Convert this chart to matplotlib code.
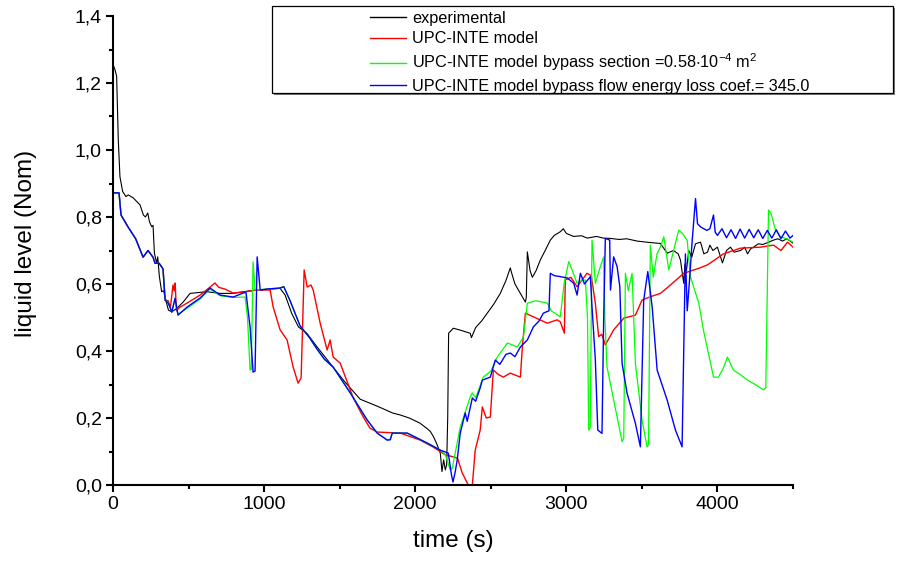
import matplotlib
matplotlib.use("Agg")
import matplotlib.pyplot as plt
from matplotlib.patches import Rectangle
from matplotlib.lines import Line2D

plt.rcParams['font.family'] = ['Liberation Sans', 'DejaVu Sans']
plt.rcParams['mathtext.fontset'] = 'custom'
plt.rcParams['mathtext.rm'] = 'Liberation Sans'
plt.rcParams['mathtext.it'] = 'Liberation Sans:italic'

# experimental
exp_t = [0, 5, 13, 24, 35, 46, 64, 86, 101, 134, 179, 201, 215, 230, 241, 256, 265, 274, 289, 296,
         307, 322, 335, 350, 367, 389, 422, 466, 510, 554, 620, 709, 797, 863, 952, 1018, 1106, 1139,
         1183, 1227, 1283, 1349, 1437, 1530, 1636, 1750, 1850, 1901, 1960, 2030, 2077, 2100, 2121,
         2145, 2166, 2177, 2188, 2199, 2208, 2215, 2221, 2252, 2300, 2364, 2372, 2400, 2440, 2477,
         2520, 2563, 2600, 2629, 2640, 2660, 2696, 2729, 2735, 2742, 2760, 2775, 2800, 2828, 2860,
         2894, 2920, 2960, 2980, 3000, 3047, 3100, 3139, 3200, 3245, 3292, 3350, 3400, 3470, 3550,
         3623, 3667, 3709, 3740, 3755, 3777, 3785, 3795, 3810, 3830, 3855, 3888, 3910, 3934, 3950,
         3970, 4000, 4033, 4060, 4086, 4110, 4153, 4180, 4199, 4220, 4239, 4270, 4300, 4340, 4371,
         4400, 4430, 4460, 4500]
exp_y = [1.24, 1.25, 1.24, 1.22, 1.03, 0.92, 0.876, 0.861, 0.866, 0.857, 0.836, 0.806, 0.80, 0.812,
         0.786, 0.771, 0.775, 0.692, 0.662, 0.681, 0.622, 0.577, 0.58, 0.55, 0.522, 0.517, 0.527,
         0.547, 0.572, 0.574, 0.577, 0.572, 0.572, 0.577, 0.582, 0.584, 0.587, 0.567, 0.512, 0.472,
         0.453, 0.413, 0.363, 0.31, 0.256, 0.235, 0.215, 0.209, 0.2, 0.185, 0.169, 0.16, 0.144, 0.12,
         0.095, 0.04, 0.075, 0.045, 0.06, 0.2, 0.453, 0.468, 0.462, 0.453, 0.44, 0.47, 0.49, 0.513,
         0.54, 0.572, 0.61, 0.648, 0.63, 0.60, 0.572, 0.546, 0.56, 0.696, 0.64, 0.62, 0.64, 0.672,
         0.70, 0.731, 0.745, 0.756, 0.765, 0.751, 0.742, 0.744, 0.737, 0.742, 0.737, 0.736, 0.733,
         0.735, 0.728, 0.724, 0.721, 0.692, 0.70, 0.69, 0.672, 0.602, 0.66, 0.64, 0.70, 0.68, 0.72,
         0.725, 0.69, 0.695, 0.716, 0.70, 0.71, 0.663, 0.70, 0.71, 0.695, 0.70, 0.71, 0.69, 0.705,
         0.71, 0.72, 0.718, 0.725, 0.731, 0.735, 0.728, 0.735, 0.722]

# UPC-INTE model
mod_t = [0, 40, 53, 100, 150, 199, 232, 265, 278, 305, 331, 345, 365, 380, 397, 405, 411, 420, 440,
         490, 576, 640, 675, 700, 740, 795, 860, 952, 1040, 1060, 1106, 1152, 1192, 1225, 1245, 1265,
         1285, 1310, 1325, 1371, 1417, 1437, 1457, 1503, 1540, 1590, 1656, 1700, 1748, 1901, 2033,
         2120, 2200, 2252, 2280, 2311, 2351, 2378, 2397, 2430, 2444, 2470, 2497, 2517, 2550, 2583,
         2629, 2696, 2709, 2729, 2782, 2874, 2940, 2960, 2987, 2993, 3030, 3071, 3137, 3165, 3192,
         3214, 3235, 3258, 3313, 3380, 3457, 3501, 3556, 3623, 3689, 3777, 3877, 3934, 4040, 4153,
         4285, 4371, 4420, 4464, 4500]
mod_y = [0.872, 0.872, 0.806, 0.77, 0.735, 0.68, 0.70, 0.68, 0.662, 0.662, 0.645, 0.552, 0.55, 0.53,
         0.597, 0.58, 0.603, 0.52, 0.53, 0.543, 0.567, 0.59, 0.603, 0.59, 0.585, 0.573, 0.576, 0.582,
         0.582, 0.531, 0.463, 0.433, 0.352, 0.304, 0.32, 0.642, 0.591, 0.597, 0.582, 0.483, 0.403,
         0.433, 0.382, 0.364, 0.32, 0.26, 0.203, 0.17, 0.158, 0.155, 0.134, 0.113, 0.09, 0.084, 0.08,
         0.036, 0.0, 0.0, 0.104, 0.164, 0.233, 0.20, 0.203, 0.343, 0.33, 0.322, 0.334, 0.322, 0.412,
         0.513, 0.502, 0.483, 0.493, 0.487, 0.453, 0.612, 0.62, 0.592, 0.632, 0.625, 0.542, 0.443,
         0.45, 0.418, 0.463, 0.498, 0.507, 0.552, 0.562, 0.572, 0.597, 0.632, 0.647, 0.657, 0.69,
         0.707, 0.71, 0.716, 0.70, 0.725, 0.71]

# UPC-INTE model bypass section
sec_t = [0, 40, 53, 100, 150, 199, 232, 265, 278, 305, 331, 345, 365, 377, 389, 411, 430, 490, 576,
         642, 709, 795, 874, 890, 907, 915, 927, 940, 1020, 1106, 1130, 1172, 1238, 1300, 1351, 1400,
         1457, 1570, 1682, 1748, 1815, 1835, 1848, 1947, 2080, 2166, 2200, 2232, 2245, 2298, 2364,
         2378, 2400, 2450, 2500, 2543, 2610, 2676, 2716, 2742, 2800, 2874, 2900, 2960, 2985, 3016,
         3040, 3071, 3100, 3126, 3140, 3148, 3158, 3170, 3192, 3225, 3247, 3255, 3269, 3369, 3380,
         3391, 3410, 3435, 3457, 3501, 3534, 3544, 3556, 3575, 3600, 3623, 3645, 3678, 3710, 3744,
         3770, 3800, 3821, 3877, 3907, 3974, 4007, 4040, 4066, 4106, 4150, 4199, 4250, 4305, 4320,
         4338, 4355, 4384, 4420, 4460, 4500]
sec_y = [0.872, 0.872, 0.806, 0.77, 0.735, 0.68, 0.70, 0.68, 0.662, 0.662, 0.645, 0.552, 0.543,
         0.531, 0.516, 0.555, 0.51, 0.527, 0.555, 0.585, 0.565, 0.56, 0.561, 0.50, 0.343, 0.345,
         0.666, 0.582, 0.585, 0.588, 0.592, 0.55, 0.475, 0.44, 0.405, 0.375, 0.352, 0.275, 0.194,
         0.155, 0.134, 0.137, 0.155, 0.155, 0.125, 0.104, 0.09, 0.045, 0.05, 0.173, 0.263, 0.275, 0.26,
         0.322, 0.34, 0.382, 0.424, 0.412, 0.442, 0.543, 0.55, 0.543, 0.52, 0.502, 0.60, 0.667, 0.64,
         0.602, 0.61, 0.612, 0.50, 0.164, 0.17, 0.731, 0.602, 0.652, 0.681, 0.50, 0.353, 0.129, 0.14,
         0.632, 0.58, 0.632, 0.363, 0.194, 0.114, 0.12, 0.716, 0.62, 0.69, 0.711, 0.741, 0.642, 0.70,
         0.761, 0.75, 0.73, 0.622, 0.542, 0.463, 0.322, 0.322, 0.35, 0.382, 0.343, 0.33, 0.313, 0.30,
         0.284, 0.29, 0.821, 0.81, 0.761, 0.74, 0.735, 0.725]

# UPC-INTE model bypass flow energy loss coef.
flow_t = [0, 40, 53, 100, 150, 199, 232, 265, 278, 305, 331, 345, 365, 377, 389, 411, 430, 490, 576,
          642, 709, 795, 861, 880, 907, 927, 940, 954, 974, 1020, 1106, 1130, 1172, 1238, 1300, 1351,
          1400, 1457, 1570, 1682, 1748, 1815, 1835, 1848, 1947, 2080, 2166, 2219, 2240, 2250, 2265,
          2278, 2298, 2331, 2344, 2378, 2400, 2430, 2444, 2497, 2530, 2560, 2600, 2629, 2660, 2696,
          2742, 2782, 2820, 2848, 2885, 2894, 2920, 2960, 3007, 3049, 3071, 3093, 3120, 3159, 3170,
          3192, 3208, 3236, 3247, 3258, 3287, 3292, 3313, 3336, 3354, 3369, 3402, 3457, 3490, 3512,
          3539, 3568, 3601, 3667, 3722, 3766, 3788, 3800, 3815, 3833, 3855, 3868, 3890, 3930, 3950,
          3974, 3985, 4000, 4030, 4060, 4090, 4120, 4150, 4180, 4210, 4240, 4270, 4300, 4330, 4360,
          4390, 4420, 4450, 4480, 4500]
flow_y = [0.872, 0.872, 0.806, 0.77, 0.735, 0.68, 0.70, 0.68, 0.662, 0.662, 0.645, 0.552, 0.543,
          0.531, 0.516, 0.558, 0.507, 0.531, 0.558, 0.588, 0.567, 0.561, 0.573, 0.575, 0.472, 0.337,
          0.34, 0.681, 0.582, 0.585, 0.588, 0.592, 0.55, 0.475, 0.44, 0.405, 0.375, 0.352, 0.275,
          0.194, 0.155, 0.134, 0.135, 0.155, 0.155, 0.125, 0.104, 0.095, 0.03, 0.009, 0.04, 0.075,
          0.155, 0.215, 0.19, 0.26, 0.25, 0.29, 0.313, 0.322, 0.373, 0.36, 0.39, 0.394, 0.383, 0.412,
          0.433, 0.472, 0.49, 0.513, 0.52, 0.632, 0.625, 0.622, 0.618, 0.602, 0.567, 0.632, 0.60, 0.622,
          0.532, 0.373, 0.164, 0.154, 0.493, 0.736, 0.731, 0.582, 0.681, 0.652, 0.592, 0.363, 0.274,
          0.184, 0.114, 0.552, 0.637, 0.532, 0.343, 0.254, 0.164, 0.114, 0.69, 0.52, 0.61, 0.73, 0.855,
          0.78, 0.77, 0.76, 0.765, 0.806, 0.755, 0.745, 0.765, 0.738, 0.762, 0.736, 0.764, 0.737, 0.763,
          0.738, 0.762, 0.736, 0.76, 0.737, 0.762, 0.735, 0.758, 0.737, 0.745]

xticks_major = [0, 1000, 2000, 3000, 4000]
xticks_minor = [500, 1500, 2500, 3500, 4500]
yticks_major = [0.0, 0.2, 0.4, 0.6, 0.8, 1.0, 1.2, 1.4]
ytick_labels = ['0,0', '0,2', '0,4', '0,6', '0,8', '1,0', '1,2', '1,4']
yticks_minor = [0.1, 0.3, 0.5, 0.7, 0.9, 1.1, 1.3]

labels = ['experimental',
          'UPC-INTE model',
          r'UPC-INTE model bypass section =0.58$\mathregular{\cdot10^{-4}\ m^2}$',
          'UPC-INTE model bypass flow energy loss coef.= 345.0']
colors = ['#000000', '#ff0000', '#00ff00', '#0000ff']

W, H = 904, 561
fig = plt.figure(figsize=(W / 100, H / 100), dpi=100)
ax = fig.add_axes([113 / W, 1 - 485 / H, 680 / W, 469 / H])

ax.plot(exp_t, exp_y, color=colors[0], lw=0.8)
ax.plot(mod_t, mod_y, color=colors[1], lw=1.0)
ax.plot(sec_t, sec_y, color=colors[2], lw=0.9)
ax.plot(flow_t, flow_y, color=colors[3], lw=1.0)

ax.set_xlim(0, 4500)
ax.set_ylim(0, 1.4)
ax.set_xticks(xticks_major)
ax.set_xticks(xticks_minor, minor=True)
ax.set_yticks(yticks_major)
ax.set_yticklabels(ytick_labels)
ax.set_yticks(yticks_minor, minor=True)

for s in ['top', 'right']:
    ax.spines[s].set_visible(False)
for s in ['left', 'bottom']:
    ax.spines[s].set_linewidth(1.5)
ax.tick_params(which='major', direction='out', length=5, width=1.5, labelsize=14, pad=3)
ax.tick_params(which='minor', direction='out', length=3, width=1.5)

ax.set_xlabel('time (s)', fontsize=17.5)
ax.xaxis.set_label_coords(0.501, -0.095)
ax.set_ylabel('liquid level (Nom)', fontsize=17.5)
ax.yaxis.set_label_coords(-0.112, 0.514)

# legend frame with Origin-like shadow
fig.patches.append(Rectangle((274 / W, 1 - 95 / H), 621 / W, 87 / H, transform=fig.transFigure,
                             facecolor='#777777', edgecolor='none', zorder=1))
fig.patches.append(Rectangle((272 / W, 1 - 93 / H), 621 / W, 87 / H, transform=fig.transFigure,
                             facecolor='white', edgecolor='black', lw=0.9, zorder=2))

handles = [Line2D([], [], color=c, lw=1.0) for c in colors]
leg = fig.legend(handles, labels, loc='upper left', bbox_to_anchor=(370 / W, 1 - 11 / H),
                 bbox_transform=fig.transFigure, frameon=False, fontsize=11.7,
                 handlelength=2.2, handletextpad=0.37, labelspacing=0.33, borderpad=0,
                 borderaxespad=0)
leg.set_zorder(3)

fig.savefig('out.png', dpi=100)
